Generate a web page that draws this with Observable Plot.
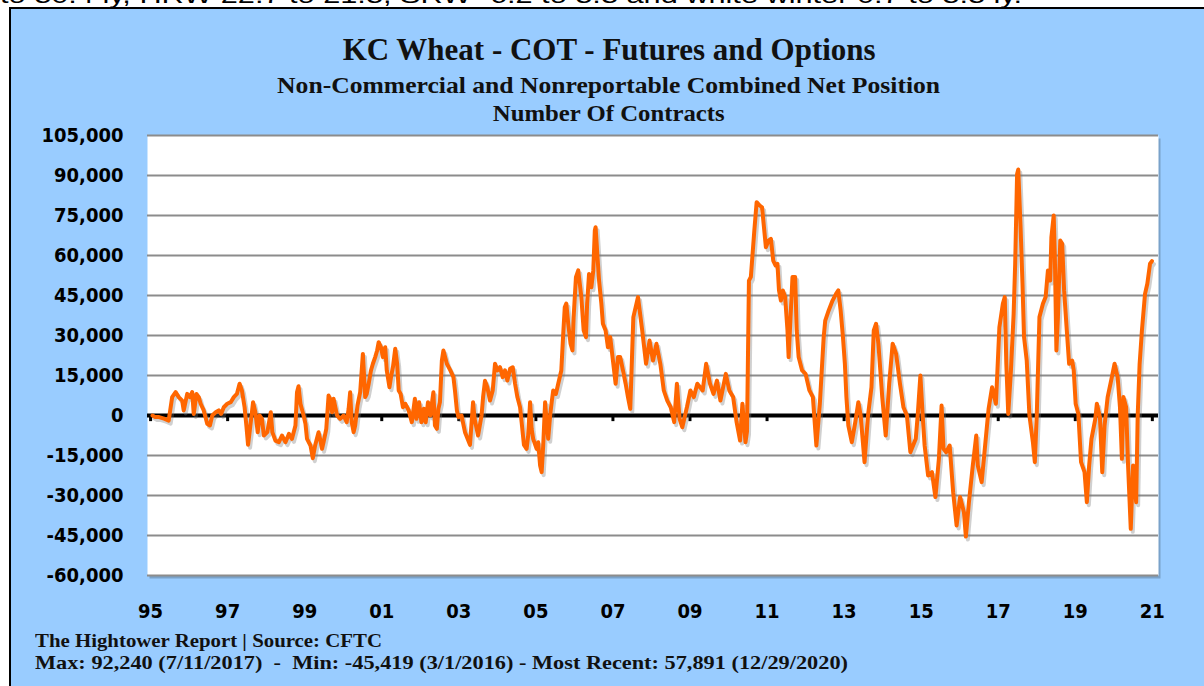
<!DOCTYPE html>
<html><head><meta charset="utf-8">
<script src="https://cdn.jsdelivr.net/npm/d3@7"></script>
<script src="https://cdn.jsdelivr.net/npm/@observablehq/plot@0.6"></script>
<style>
html,body{margin:0;padding:0;width:1204px;height:686px;overflow:hidden;background:#fff;}
#topline{position:absolute;left:0;top:-15px;font-size:22px;line-height:22px;font-family:"Liberation Sans",Arial,sans-serif;white-space:nowrap;color:#000;transform-origin:left top;}
#frame{position:absolute;left:9px;top:7px;width:1300px;height:800px;border:2px solid #000;background:#99CCFF;}
.ctr{position:absolute;left:0;width:1218px;text-align:center;white-space:nowrap;}
.ctr span{display:inline-block;transform-origin:center center;}
.serif{font-family:"Liberation Serif","Times New Roman",serif;font-weight:bold;color:#111;}
#chart{position:absolute;left:0;top:100px;}
.foot{position:absolute;left:35px;white-space:nowrap;}
.foot span{display:inline-block;transform-origin:left center;}
</style></head>
<body>
<div id="topline"><span>to 30.4 ly, HRW 22.7 to 21.3, SRW -6.2 to 3.3 and white winter 0.7 to 3.3 ly.</span></div>
<div id="frame"></div>
<div class="ctr serif" id="t1" style="top:33px;font-size:32px;line-height:32px;"><span>KC Wheat - COT - Futures and Options</span></div>
<div class="ctr serif" id="t2" style="top:74px;font-size:23px;line-height:23px;"><span>Non-Commercial and Nonreportable Combined Net Position</span></div>
<div class="ctr serif" id="t3" style="top:102px;font-size:23px;line-height:23px;"><span>Number Of Contracts</span></div>
<div id="chart"></div>
<div class="foot serif" id="f1" style="top:631px;font-size:19px;line-height:19px;"><span>The Hightower Report | Source: CFTC</span></div>
<div class="foot serif" id="f2" style="top:653px;font-size:19px;line-height:19px;"><span>Max: 92,240 (7/11/2017)&nbsp; - &nbsp;Min: -45,419 (3/1/2016) - Most Recent: 57,891 (12/29/2020)</span></div>
<script>
// Net position (contracts), [decimal year, value]
const points1995to2002 = [[1995.05,0],[1995.12,-600],[1995.22,-600],[1995.35,-1200],[1995.47,-1900],[1995.56,6900],[1995.65,8750],[1995.73,6900],[1995.82,5600],[1995.86,1900],[1995.95,8100],[1996.02,6900],[1996.08,8750],[1996.12,600],[1996.19,8100],[1996.25,6900],[1996.30,4400],[1996.38,1900],[1996.47,-3100],[1996.54,-3750],[1996.60,0],[1996.69,1200],[1996.77,1900],[1996.83,600],[1996.90,3100],[1996.99,4400],[1997.08,5000],[1997.16,6900],[1997.24,8100],[1997.31,11900],[1997.37,9400],[1997.44,3100],[1997.49,-4400],[1997.53,-11000],[1997.59,-3750],[1997.66,5000],[1997.72,1200],[1997.78,-6250],[1997.83,0],[1997.89,-1250],[1997.94,-7500],[1998.03,-6250],[1998.12,1250],[1998.16,-6250],[1998.24,-9400],[1998.33,-10000],[1998.41,-7500],[1998.50,-10000],[1998.59,-6900],[1998.67,-8750],[1998.76,-3750],[1998.80,8750],[1998.84,11000],[1998.89,4400],[1998.96,600],[1999.02,-3100],[1999.06,-8750],[1999.15,-11250],[1999.21,-16000],[1999.27,-11250],[1999.36,-6250],[1999.40,-8750],[1999.45,-12500],[1999.49,-10000],[1999.56,-5000],[1999.62,7500],[1999.66,6250],[1999.71,1250],[1999.75,6250],[1999.84,0],[1999.92,-1250],[2000.01,0],[2000.09,-2500],[2000.14,2500],[2000.18,8750],[2000.22,-2500],[2000.27,-6250],[2000.31,-3750],[2000.37,3750],[2000.44,8750],[2000.51,23100],[2000.57,6900],[2000.61,8100],[2000.66,11900],[2000.72,16900],[2000.77,19400],[2000.83,21900],[2000.88,24400],[2000.92,27500],[2000.98,25600],[2001.03,21900],[2001.09,25600],[2001.13,16900],[2001.20,10600],[2001.24,14400],[2001.29,18100],[2001.35,25000],[2001.40,19400],[2001.44,9400],[2001.49,8100],[2001.55,3100],[2001.61,4400],[2001.70,1900],[2001.78,-2500],[2001.86,6250],[2001.90,-1250],[2001.97,5000],[2002.03,-2500],[2002.09,2500],[2002.14,-2500],[2002.20,5000],[2002.26,0],[2002.34,8750],[2002.38,-3750],[2002.43,-5000],[2002.47,2500],[2002.51,5000],[2002.56,20600],[2002.60,24400],[2002.69,19400],[2002.78,16900],[2002.86,14400],[2002.90,9400],[2002.95,1900],[2002.99,-600]];
const points2003to2009 = [[2003.07,0],[2003.16,-6250],[2003.29,-11000],[2003.37,5000],[2003.41,-1250],[2003.50,-7500],[2003.59,0],[2003.63,6900],[2003.68,13000],[2003.74,10600],[2003.81,5600],[2003.88,9400],[2003.94,19400],[2004.00,16900],[2004.07,18100],[2004.14,14400],[2004.20,16900],[2004.26,13100],[2004.33,17500],[2004.40,18100],[2004.46,11900],[2004.52,6900],[2004.59,3100],[2004.63,-2500],[2004.69,-11000],[2004.76,-12500],[2004.80,-7500],[2004.85,5000],[2004.89,-5000],[2004.93,-8750],[2005.02,-12500],[2005.06,-10000],[2005.11,-18750],[2005.15,-21250],[2005.19,-11250],[2005.24,5000],[2005.28,-2500],[2005.32,-8750],[2005.37,0],[2005.41,5000],[2005.45,9400],[2005.52,8100],[2005.58,11900],[2005.66,16900],[2005.71,30600],[2005.75,40600],[2005.79,42000],[2005.84,34400],[2005.90,26900],[2005.95,24400],[2005.98,36900],[2006.04,51900],[2006.10,54400],[2006.14,49400],[2006.18,44400],[2006.24,31900],[2006.30,29400],[2006.33,41900],[2006.38,53100],[2006.44,48100],[2006.49,54400],[2006.53,69400],[2006.55,70600],[2006.60,59400],[2006.64,50600],[2006.70,41900],[2006.74,34400],[2006.81,31900],[2006.87,25600],[2006.93,29400],[2007.00,20600],[2007.07,11900],[2007.13,21900],[2007.19,21900],[2007.26,16900],[2007.33,11900],[2007.39,6900],[2007.45,2500],[2007.53,36900],[2007.65,44400],[2007.76,31900],[2007.86,19400],[2007.95,28100],[2008.04,20600],[2008.13,26900],[2008.23,19400],[2008.32,9400],[2008.41,5600],[2008.50,3100],[2008.59,-2500],[2008.66,11900],[2008.73,-1250],[2008.80,-4400],[2008.92,3100],[2009.01,9400],[2009.10,6900],[2009.19,11900],[2009.33,9400],[2009.42,19400],[2009.52,11900],[2009.61,8100],[2009.70,13100],[2009.79,5600],[2009.93,15600]];
const points2010to2015 = [[2010.02,9400],[2010.12,6900],[2010.21,-2500],[2010.30,-9400],[2010.36,4400],[2010.44,-10000],[2010.48,-6000],[2010.53,50600],[2010.58,52000],[2010.67,69400],[2010.73,80000],[2010.81,78750],[2010.87,78100],[2010.92,70600],[2010.97,63100],[2011.04,65600],[2011.10,66250],[2011.16,58100],[2011.22,56250],[2011.27,56900],[2011.31,46900],[2011.36,43100],[2011.41,46900],[2011.47,44400],[2011.53,31900],[2011.56,21900],[2011.61,36900],[2011.66,51900],[2011.73,51900],[2011.77,31900],[2011.82,21900],[2011.91,16900],[2012.00,15600],[2012.10,9400],[2012.19,6900],[2012.28,-11250],[2012.37,4400],[2012.47,29400],[2012.51,35600],[2012.60,39400],[2012.70,43100],[2012.79,45600],[2012.85,46900],[2012.91,39400],[2012.97,29400],[2013.02,19400],[2013.06,6900],[2013.11,-3750],[2013.20,-10000],[2013.29,-2500],[2013.37,5000],[2013.43,0],[2013.53,-17500],[2013.62,0],[2013.71,10600],[2013.77,31900],[2013.83,34400],[2013.89,26900],[2013.99,6900],[2014.08,-7500],[2014.17,11900],[2014.26,26900],[2014.35,23100],[2014.45,11900],[2014.54,3100],[2014.63,0],[2014.72,-13750],[2014.86,-8750],[2014.91,0],[2014.98,15000],[2015.05,-2500],[2015.09,-11250],[2015.18,-22500],[2015.28,-21250],[2015.37,-30600],[2015.46,-16250],[2015.53,3750],[2015.58,-12500],[2015.65,-13750],[2015.74,-11250],[2015.83,-28750],[2015.92,-41250]];
const points2016to2020 = [[2016.01,-30600],[2016.11,-36250],[2016.16,-45419],[2016.24,-32500],[2016.34,-18750],[2016.43,-7500],[2016.47,-18750],[2016.57,-25000],[2016.66,-11250],[2016.75,2500],[2016.84,10600],[2016.94,4400],[2017.03,33100],[2017.12,41900],[2017.17,44400],[2017.21,19400],[2017.26,600],[2017.33,16900],[2017.40,38100],[2017.44,56900],[2017.49,90600],[2017.52,92240],[2017.58,70600],[2017.63,49400],[2017.67,29400],[2017.74,20600],[2017.81,0],[2017.90,-10000],[2017.95,-17500],[2018.00,0],[2018.07,36900],[2018.16,41900],[2018.23,44400],[2018.29,54400],[2018.35,50600],[2018.38,66900],[2018.44,75000],[2018.47,59400],[2018.51,24400],[2018.55,36900],[2018.61,65600],[2018.66,64400],[2018.71,46900],[2018.78,31900],[2018.84,19400],[2018.92,20600],[2018.96,16900],[2019.01,4400],[2019.08,600],[2019.15,-17500],[2019.24,-21250],[2019.30,-32500],[2019.36,-18750],[2019.42,-8750],[2019.52,-1250],[2019.56,4400],[2019.64,-600],[2019.70,-21250],[2019.76,-3750],[2019.84,6900],[2019.93,13100],[2020.02,19400],[2020.10,14400],[2020.16,3100],[2020.21,-16250],[2020.25,6900],[2020.32,3100],[2020.37,-18750],[2020.44,-42500],[2020.50,-18750],[2020.58,-32500],[2020.62,0],[2020.67,19400],[2020.73,31900],[2020.81,45600],[2020.87,49400],[2020.94,56900],[2020.99,57891]];

const yTicks = [-60000,-45000,-30000,-15000,0,15000,30000,45000,60000,75000,90000,105000];
const xTickYears = [1995,1997,1999,2001,2003,2005,2007,2009,2011,2013,2015,2017,2019,2021];
const xTickLabels = ["95","97","99","01","03","05","07","09","11","13","15","17","19","21"];

const points = [...points1995to2002, ...points2003to2009, ...points2010to2015, ...points2016to2020]
  .map(([year, value]) => ({year, value}));

const axisFont = '"DejaVu Sans Condensed","DejaVu Sans",sans-serif';
const chart = Plot.plot({
  width: 1204, height: 530,
  marginLeft: 147, marginRight: 46, marginTop: 35, marginBottom: 55,
  x: {domain: [1994.92, 2021.16]},
  y: {domain: [-60000, 105000]},
  style: {background: "transparent", fontFamily: axisFont, fontSize: "20px", fontWeight: "bold", color: "#000", overflow: "visible"},
  marks: [
    Plot.frame({fill: "#5f7f9f", fillOpacity: 0.55, stroke: null, dx: 2, dy: 3}),
    Plot.frame({fill: "white", stroke: null}),
    Plot.ruleY(yTicks, {stroke: "#8c8c8c", strokeWidth: 2}),
    Plot.ruleY([0], {stroke: "black", strokeWidth: 4}),
    Plot.ruleX(xTickYears, {y1: 0, y2: -2300, stroke: "black", strokeWidth: 3}),
    Plot.line(points, {x: "year", y: "value", stroke: "#777", strokeOpacity: 0.35, strokeWidth: 4, dx: 2, dy: 3}),
    Plot.line(points, {x: "year", y: "value", stroke: "#FF6600", strokeWidth: 4, strokeLinejoin: "round"}),
    Plot.axisY({ticks: yTicks, tickSize: 0, tickPadding: 24, label: null, tickFormat: d => d.toLocaleString("en-US"), fontSize: 20, fontWeight: "bold", fill: "#000"}),
    Plot.axisX({ticks: xTickYears, tickSize: 0, tickPadding: 28, label: null, tickFormat: d => xTickLabels[xTickYears.indexOf(d)], fontSize: 20, fontWeight: "bold", fill: "#000"})
  ]
});
document.getElementById("chart").appendChild(chart);

function fitWidth(sel, w) {
  const s = document.querySelector(sel);
  s.style.transform = "none";
  const r = s.getBoundingClientRect();
  s.style.transform = `scaleX(${w / r.width})`;
}
function fitAll() {
  fitWidth("#topline", 1022);
  fitWidth("#t1 span", 533);
  fitWidth("#t2 span", 663);
  fitWidth("#t3 span", 232);
  fitWidth("#f1 span", 347);
  fitWidth("#f2 span", 813);
}
fitAll();
if (document.fonts) document.fonts.ready.then(fitAll);
</script>
</body></html>
